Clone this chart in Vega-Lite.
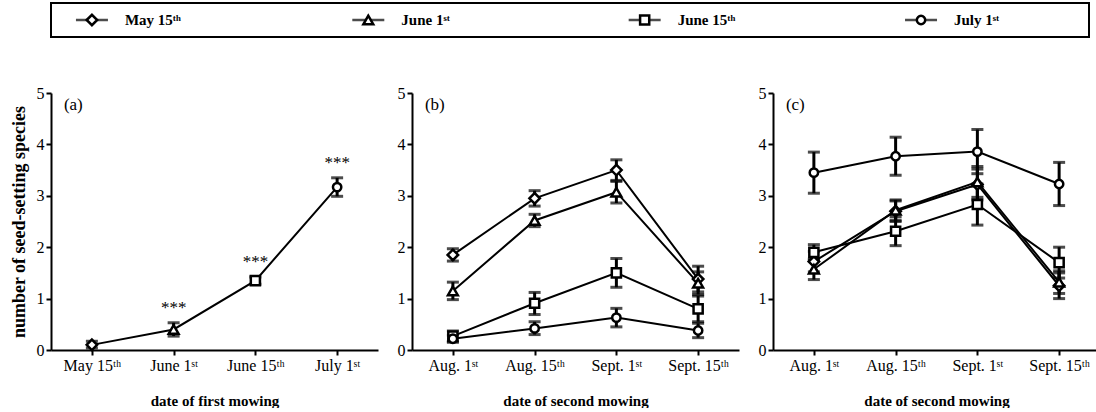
{
  "$schema": "https://vega.github.io/schema/vega-lite/v6.json",
  "padding": {"left": 9, "top": 2, "right": 0, "bottom": 0},
  "autosize": {"type": "pad"},
  "background": "white",
  "config": {
    "view": {"stroke": null},
    "font": "Liberation Serif",
    "axis": {
      "domainColor": "black", "domainWidth": 2, "tickColor": "black", "tickWidth": 2, "tickSize": 5,
      "labelFont": "Liberation Serif", "labelFontSize": 16, "labelColor": "black", "labelPadding": 2,
      "titleFont": "Liberation Serif", "titleFontSize": 15, "titleFontWeight": "bold", "titleColor": "black",
      "grid": false
    }
  },
  "datasets": {
    "legend": [
      {"first": "May 15ᵗʰ"}, {"first": "June 1ˢᵗ"}, {"first": "June 15ᵗʰ"}, {"first": "July 1ˢᵗ"}
    ],
    "firstMowing": [
      {"date": "May 15ᵗʰ", "mean": 0.10, "lo": 0.04, "hi": 0.17, "sig": ""},
      {"date": "June 1ˢᵗ", "mean": 0.40, "lo": 0.27, "hi": 0.53, "sig": "***"},
      {"date": "June 15ᵗʰ", "mean": 1.35, "lo": 1.28, "hi": 1.42, "sig": "***"},
      {"date": "July 1ˢᵗ", "mean": 3.17, "lo": 2.99, "hi": 3.35, "sig": "***"}
    ],
    "secondB": [
      {"first": "May 15ᵗʰ", "date": "Aug. 1ˢᵗ", "mean": 1.85, "lo": 1.73, "hi": 1.97},
      {"first": "May 15ᵗʰ", "date": "Aug. 15ᵗʰ", "mean": 2.95, "lo": 2.80, "hi": 3.10},
      {"first": "May 15ᵗʰ", "date": "Sept. 1ˢᵗ", "mean": 3.50, "lo": 3.30, "hi": 3.70},
      {"first": "May 15ᵗʰ", "date": "Sept. 15ᵗʰ", "mean": 1.38, "lo": 1.13, "hi": 1.63},
      {"first": "June 1ˢᵗ", "date": "Aug. 1ˢᵗ", "mean": 1.15, "lo": 0.98, "hi": 1.32},
      {"first": "June 1ˢᵗ", "date": "Aug. 15ᵗʰ", "mean": 2.52, "lo": 2.40, "hi": 2.64},
      {"first": "June 1ˢᵗ", "date": "Sept. 1ˢᵗ", "mean": 3.07, "lo": 2.86, "hi": 3.28},
      {"first": "June 1ˢᵗ", "date": "Sept. 15ᵗʰ", "mean": 1.30, "lo": 1.08, "hi": 1.52},
      {"first": "June 15ᵗʰ", "date": "Aug. 1ˢᵗ", "mean": 0.27, "lo": 0.17, "hi": 0.37},
      {"first": "June 15ᵗʰ", "date": "Aug. 15ᵗʰ", "mean": 0.91, "lo": 0.69, "hi": 1.12},
      {"first": "June 15ᵗʰ", "date": "Sept. 1ˢᵗ", "mean": 1.50, "lo": 1.22, "hi": 1.78},
      {"first": "June 15ᵗʰ", "date": "Sept. 15ᵗʰ", "mean": 0.80, "lo": 0.55, "hi": 1.05},
      {"first": "July 1ˢᵗ", "date": "Aug. 1ˢᵗ", "mean": 0.22, "lo": 0.15, "hi": 0.29},
      {"first": "July 1ˢᵗ", "date": "Aug. 15ᵗʰ", "mean": 0.42, "lo": 0.30, "hi": 0.55},
      {"first": "July 1ˢᵗ", "date": "Sept. 1ˢᵗ", "mean": 0.63, "lo": 0.45, "hi": 0.81},
      {"first": "July 1ˢᵗ", "date": "Sept. 15ᵗʰ", "mean": 0.38, "lo": 0.24, "hi": 0.52}
    ],
    "secondC": [
      {"first": "May 15ᵗʰ", "date": "Aug. 1ˢᵗ", "mean": 1.72, "lo": 1.52, "hi": 1.92},
      {"first": "May 15ᵗʰ", "date": "Aug. 15ᵗʰ", "mean": 2.70, "lo": 2.50, "hi": 2.90},
      {"first": "May 15ᵗʰ", "date": "Sept. 1ˢᵗ", "mean": 3.22, "lo": 2.92, "hi": 3.52},
      {"first": "May 15ᵗʰ", "date": "Sept. 15ᵗʰ", "mean": 1.25, "lo": 1.00, "hi": 1.50},
      {"first": "June 1ˢᵗ", "date": "Aug. 1ˢᵗ", "mean": 1.57, "lo": 1.37, "hi": 1.77},
      {"first": "June 1ˢᵗ", "date": "Aug. 15ᵗʰ", "mean": 2.72, "lo": 2.52, "hi": 2.92},
      {"first": "June 1ˢᵗ", "date": "Sept. 1ˢᵗ", "mean": 3.27, "lo": 2.97, "hi": 3.57},
      {"first": "June 1ˢᵗ", "date": "Sept. 15ᵗʰ", "mean": 1.32, "lo": 1.10, "hi": 1.54},
      {"first": "June 15ᵗʰ", "date": "Aug. 1ˢᵗ", "mean": 1.90, "lo": 1.75, "hi": 2.05},
      {"first": "June 15ᵗʰ", "date": "Aug. 15ᵗʰ", "mean": 2.31, "lo": 2.03, "hi": 2.59},
      {"first": "June 15ᵗʰ", "date": "Sept. 1ˢᵗ", "mean": 2.83, "lo": 2.43, "hi": 3.23},
      {"first": "June 15ᵗʰ", "date": "Sept. 15ᵗʰ", "mean": 1.70, "lo": 1.40, "hi": 2.00},
      {"first": "July 1ˢᵗ", "date": "Aug. 1ˢᵗ", "mean": 3.45, "lo": 3.05, "hi": 3.85},
      {"first": "July 1ˢᵗ", "date": "Aug. 15ᵗʰ", "mean": 3.77, "lo": 3.40, "hi": 4.14},
      {"first": "July 1ˢᵗ", "date": "Sept. 1ˢᵗ", "mean": 3.86, "lo": 3.43, "hi": 4.29},
      {"first": "July 1ˢᵗ", "date": "Sept. 15ᵗʰ", "mean": 3.23, "lo": 2.81, "hi": 3.65}
    ]
  },
  "spacing": 47,
  "vconcat": [
    {
      "width": 1038,
      "height": 34,
      "view": {"stroke": "black", "strokeWidth": 2},
      "data": {"name": "legend"},
      "encoding": {
        "x": {"field": "first", "type": "nominal", "scale": {"type": "point", "domain": ["May 15ᵗʰ", "June 1ˢᵗ", "June 15ᵗʰ", "July 1ˢᵗ"], "padding": 0.378, "align": 0.196}, "axis": null},
        "y": {"datum": 0.5, "type": "quantitative", "scale": {"domain": [0, 1]}, "axis": null}
      },
      "layer": [
        {"mark": {"type": "tick", "orient": "horizontal", "size": 32, "thickness": 2.5, "color": "black"}},
        {
          "mark": {"type": "point", "filled": true, "fill": "white", "stroke": "black", "strokeWidth": 2.5, "opacity": 1},
          "encoding": {
            "shape": {"field": "first", "type": "nominal", "scale": {"domain": ["May 15ᵗʰ", "June 1ˢᵗ", "June 15ᵗʰ", "July 1ˢᵗ"], "range": ["diamond", "triangle-up", "square", "circle"]}, "legend": null},
            "size": {"field": "first", "type": "nominal", "scale": {"domain": ["May 15ᵗʰ", "June 1ˢᵗ", "June 15ᵗʰ", "July 1ˢᵗ"], "range": [110, 70, 70, 80]}, "legend": null}
          }
        },
        {
          "mark": {"type": "text", "align": "left", "baseline": "middle", "dx": 33, "fontWeight": "bold", "fontSize": 15, "font": "Liberation Serif", "color": "black"},
          "encoding": {"text": {"field": "first"}}
        }
      ]
    },
    {
      "spacing": 19,
      "hconcat": [
        {
          "width": 327,
          "height": 257,
          "data": {"name": "firstMowing"},
          "encoding": {
            "x": {"field": "date", "type": "nominal", "scale": {"type": "point", "domain": ["May 15ᵗʰ", "June 1ˢᵗ", "June 15ᵗʰ", "July 1ˢᵗ"], "padding": 0.5}, "axis": {"title": "date of first mowing", "labelAngle": 0, "titlePadding": 20}}
          },
          "layer": [
            {
              "mark": {"type": "line", "color": "black", "strokeWidth": 2},
              "encoding": {"y": {"field": "mean", "type": "quantitative", "scale": {"domain": [0, 5]}, "axis": {"title": "number of seed-setting species", "values": [0, 1, 2, 3, 4, 5], "titlePadding": 8, "titleFontSize": 18}}}
            },
            {
              "mark": {"type": "rule", "color": "black", "strokeWidth": 3},
              "encoding": {"y": {"field": "lo", "type": "quantitative"}, "y2": {"field": "hi"}}
            },
            {
              "mark": {"type": "tick", "color": "black", "size": 12, "thickness": 3},
              "encoding": {"y": {"field": "lo", "type": "quantitative"}}
            },
            {
              "mark": {"type": "tick", "color": "black", "size": 12, "thickness": 3},
              "encoding": {"y": {"field": "hi", "type": "quantitative"}}
            },
            {
              "mark": {"type": "point", "filled": true, "fill": "white", "stroke": "black", "strokeWidth": 2.5, "opacity": 1},
              "encoding": {
                "y": {"field": "mean", "type": "quantitative"},
                "shape": {"field": "date", "type": "nominal", "scale": {"domain": ["May 15ᵗʰ", "June 1ˢᵗ", "June 15ᵗʰ", "July 1ˢᵗ"], "range": ["diamond", "triangle-up", "square", "circle"]}, "legend": null},
                "size": {"field": "date", "type": "nominal", "scale": {"domain": ["May 15ᵗʰ", "June 1ˢᵗ", "June 15ᵗʰ", "July 1ˢᵗ"], "range": [110, 70, 70, 80]}, "legend": null}
              }
            },
            {
              "mark": {"type": "text", "baseline": "alphabetic", "dy": -10, "fontSize": 17, "font": "Liberation Serif", "color": "black"},
              "encoding": {"y": {"field": "hi", "type": "quantitative"}, "text": {"field": "sig"}}
            },
            {
              "data": {"values": [{"panel": "(a)"}]},
              "mark": {"type": "text", "align": "left", "baseline": "alphabetic", "dx": -28, "fontSize": 17, "font": "Liberation Serif", "color": "black"},
              "encoding": {"x": {"datum": "May 15ᵗʰ"}, "y": {"datum": 4.67}, "text": {"field": "panel"}}
            }
          ]
        },
        {
          "width": 327,
          "height": 257,
          "data": {"name": "secondB"},
          "encoding": {
            "x": {"field": "date", "type": "nominal", "scale": {"type": "point", "domain": ["Aug. 1ˢᵗ", "Aug. 15ᵗʰ", "Sept. 1ˢᵗ", "Sept. 15ᵗʰ"], "padding": 0.5}, "axis": {"title": "date of second mowing", "labelAngle": 0, "titlePadding": 20}}
          },
          "layer": [
            {
              "mark": {"type": "line", "color": "black", "strokeWidth": 2},
              "encoding": {"y": {"field": "mean", "type": "quantitative", "scale": {"domain": [0, 5]}, "axis": {"title": null, "values": [0, 1, 2, 3, 4, 5]}}, "detail": {"field": "first"}}
            },
            {
              "mark": {"type": "rule", "color": "black", "strokeWidth": 3},
              "encoding": {"y": {"field": "lo", "type": "quantitative"}, "y2": {"field": "hi"}}
            },
            {
              "mark": {"type": "tick", "color": "black", "size": 12, "thickness": 3},
              "encoding": {"y": {"field": "lo", "type": "quantitative"}}
            },
            {
              "mark": {"type": "tick", "color": "black", "size": 12, "thickness": 3},
              "encoding": {"y": {"field": "hi", "type": "quantitative"}}
            },
            {
              "mark": {"type": "point", "filled": true, "fill": "white", "stroke": "black", "strokeWidth": 2.5, "opacity": 1},
              "encoding": {
                "y": {"field": "mean", "type": "quantitative"},
                "shape": {"field": "first", "type": "nominal", "scale": {"domain": ["May 15ᵗʰ", "June 1ˢᵗ", "June 15ᵗʰ", "July 1ˢᵗ"], "range": ["diamond", "triangle-up", "square", "circle"]}, "legend": null},
                "size": {"field": "first", "type": "nominal", "scale": {"domain": ["May 15ᵗʰ", "June 1ˢᵗ", "June 15ᵗʰ", "July 1ˢᵗ"], "range": [110, 70, 70, 80]}, "legend": null}
              }
            },
            {
              "data": {"values": [{"panel": "(b)"}]},
              "mark": {"type": "text", "align": "left", "baseline": "alphabetic", "dx": -28, "fontSize": 17, "font": "Liberation Serif", "color": "black"},
              "encoding": {"x": {"datum": "Aug. 1ˢᵗ"}, "y": {"datum": 4.67}, "text": {"field": "panel"}}
            }
          ]
        },
        {
          "width": 327,
          "height": 257,
          "data": {"name": "secondC"},
          "encoding": {
            "x": {"field": "date", "type": "nominal", "scale": {"type": "point", "domain": ["Aug. 1ˢᵗ", "Aug. 15ᵗʰ", "Sept. 1ˢᵗ", "Sept. 15ᵗʰ"], "padding": 0.5}, "axis": {"title": "date of second mowing", "labelAngle": 0, "titlePadding": 20}}
          },
          "layer": [
            {
              "mark": {"type": "line", "color": "black", "strokeWidth": 2},
              "encoding": {"y": {"field": "mean", "type": "quantitative", "scale": {"domain": [0, 5]}, "axis": {"title": null, "values": [0, 1, 2, 3, 4, 5]}}, "detail": {"field": "first"}}
            },
            {
              "mark": {"type": "rule", "color": "black", "strokeWidth": 3},
              "encoding": {"y": {"field": "lo", "type": "quantitative"}, "y2": {"field": "hi"}}
            },
            {
              "mark": {"type": "tick", "color": "black", "size": 12, "thickness": 3},
              "encoding": {"y": {"field": "lo", "type": "quantitative"}}
            },
            {
              "mark": {"type": "tick", "color": "black", "size": 12, "thickness": 3},
              "encoding": {"y": {"field": "hi", "type": "quantitative"}}
            },
            {
              "mark": {"type": "point", "filled": true, "fill": "white", "stroke": "black", "strokeWidth": 2.5, "opacity": 1},
              "encoding": {
                "y": {"field": "mean", "type": "quantitative"},
                "shape": {"field": "first", "type": "nominal", "scale": {"domain": ["May 15ᵗʰ", "June 1ˢᵗ", "June 15ᵗʰ", "July 1ˢᵗ"], "range": ["diamond", "triangle-up", "square", "circle"]}, "legend": null},
                "size": {"field": "first", "type": "nominal", "scale": {"domain": ["May 15ᵗʰ", "June 1ˢᵗ", "June 15ᵗʰ", "July 1ˢᵗ"], "range": [110, 70, 70, 80]}, "legend": null}
              }
            },
            {
              "data": {"values": [{"panel": "(c)"}]},
              "mark": {"type": "text", "align": "left", "baseline": "alphabetic", "dx": -28, "fontSize": 17, "font": "Liberation Serif", "color": "black"},
              "encoding": {"x": {"datum": "Aug. 1ˢᵗ"}, "y": {"datum": 4.67}, "text": {"field": "panel"}}
            }
          ]
        }
      ]
    }
  ]
}
